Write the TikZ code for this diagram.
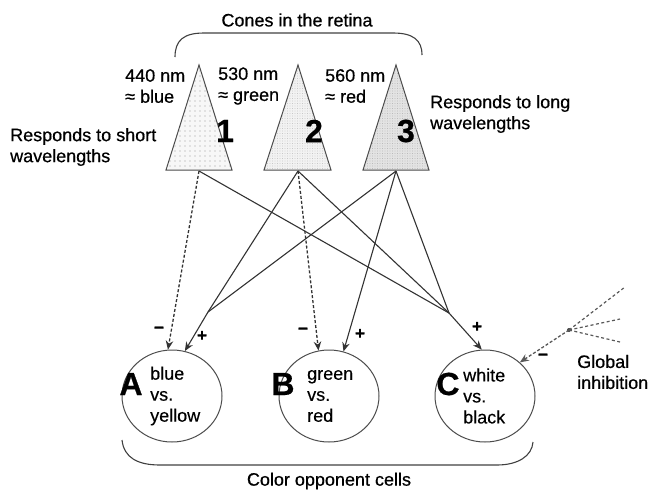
\documentclass[tikz,border=0pt]{standalone}
\usepackage{fontspec}
\setmainfont{Liberation Sans}[FakeBold=0.6]
\usetikzlibrary{arrows.meta,patterns.meta,shapes.geometric}
\begin{document}
\begin{tikzpicture}[x=1pt,y=-1pt,
  lbl/.style={font=\fontsize{18}{21}\selectfont\addfontfeatures{FakeBold=0.6}, inner sep=0pt, align=left},
  txt/.style={font=\fontsize{18}{21}\selectfont\addfontfeatures{FakeBold=0.35}, inner sep=0pt, align=left},
  big/.style={font=\fontsize{32}{32}\selectfont\bfseries, inner sep=0pt},
  sgn/.style={font=\fontsize{17}{17}\selectfont\bfseries, inner sep=0pt},
  cone/.style={draw=black!70, line width=1pt},
  cell/.style={draw=black!70, line width=1pt, ellipse, minimum width=100pt, minimum height=92pt, inner sep=0pt},
  wire/.style={draw=black!80, line width=1.1pt},
  arr/.style={wire, -{Stealth[length=9pt,width=7.5pt]}},
  darr/.style={arr, dash pattern=on 3pt off 2pt, line width=1.3pt},
  dwire/.style={wire, dash pattern=on 3pt off 2.5pt, line width=1.2pt, draw=black!65},
  brace/.style={draw=black!75, line width=1.1pt}
]
\useasboundingbox (0,0) rectangle (653,491);

% cones
\draw[cone, preaction={fill=gray!6}, pattern={Dots[distance=5pt,radius=0.55pt]}, pattern color=gray!80] (199,65) -- (232,170) -- (166,170) -- cycle;
\draw[cone, preaction={fill=gray!10}, pattern={Dots[distance=2.5pt,radius=0.3pt]}, pattern color=gray!60] (298,65) -- (331,170) -- (264,170) -- cycle;
\draw[cone, preaction={fill=gray!22}, pattern={Dots[distance=2.5pt,radius=0.4pt]}, pattern color=gray!70] (396,65) -- (429,170) -- (363,170) -- cycle;
\coordinate (t1) at (199,171);
\coordinate (t2) at (298,171);
\coordinate (t3) at (396,171);

\node[big] (n1) at (225,131) {1};
\node[big] (n2) at (314,131) {2};
\node[big] (n3) at (406,131) {3};

% top brace
\draw[brace] (175,57) .. controls (175,40) and (184,33) .. (204,33) -- (393,33) .. controls (413,33) and (422,40) .. (422,55);
\node[lbl] (cones) at (297,20) {Cones in the retina};

\node[lbl, anchor=west] (w1) at (125,86) {440 nm\\≈ blue};
\node[lbl, anchor=west] (w2) at (218,86) {530 nm\\≈ green};
\node[lbl, anchor=west] (w3) at (325,86) {560 nm\\≈ red};
\node[lbl, anchor=west] (short) at (10,147) {Responds to short\\wavelengths};
\node[lbl, anchor=west] (long) at (430,114) {Responds to long\\wavelengths};

% cells
\node[cell] (A) at (172,396) {};
\node[cell] (B) at (329,396) {};
\node[cell] (C) at (485,396) {};
\node[big] (la) at (131,384) {A};
\node[big] (lb) at (283,384) {B};
\node[big] (lc) at (448,384) {C};
\node[txt, anchor=west] (ta) at (150,396) {blue\\vs.\\yellow};
\node[txt, anchor=west] (tb) at (307,396) {green\\vs.\\red};
\node[txt, anchor=west] (tc) at (463,396) {white\\vs.\\black};

% junctions
\coordinate (jA) at (208,312);
\coordinate (jC) at (449,313);

% connectors
\draw[darr] (t1) -- (A.95);
\draw[wire] (t1) -- (jC);
\draw[wire] (t2) -- (jA);
\draw[wire] (t2) -- (jC);
\draw[darr] (t2) -- (B.103);
\draw[wire] (t3) -- (jA);
\draw[wire] (t3) -- (jC);
\draw[arr] (t3) -- (B.72);
\draw[arr] (jA) -- (A.74);
\draw[arr] (jC) -- (C.94);

% signs
\node[sgn] (ma) at (159,330) {\textminus};
\node[sgn] (pa) at (202,336) {+};
\node[sgn] (mb) at (303,331) {\textminus};
\node[sgn] (pb) at (360,334) {+};
\node[sgn] (pc) at (477,327) {+};
\node[sgn] (mg) at (543,357) {\textminus};

% global inhibition
\coordinate (g) at (569,330);
\fill[black!75] (g) circle (2pt);
\coordinate (g1) at (625,287);
\coordinate (g2) at (620,319);
\coordinate (g3) at (620,342);
\draw[dwire] (g) -- (g1);
\draw[dwire] (g) -- (g2);
\draw[dwire] (g) -- (g3);
\draw[darr, draw=black!65] (g) -- (C.44);
\node[lbl, anchor=west] (glob) at (577,372) {Global\\inhibition};

% bottom brace
\draw[brace] (122,440) .. controls (124,458) and (138,465) .. (160,465) -- (497,465) .. controls (518,465) and (532,456) .. (533,442);
\node[lbl] (opp) at (329,481) {Color opponent cells};
\end{tikzpicture}
\end{document}
